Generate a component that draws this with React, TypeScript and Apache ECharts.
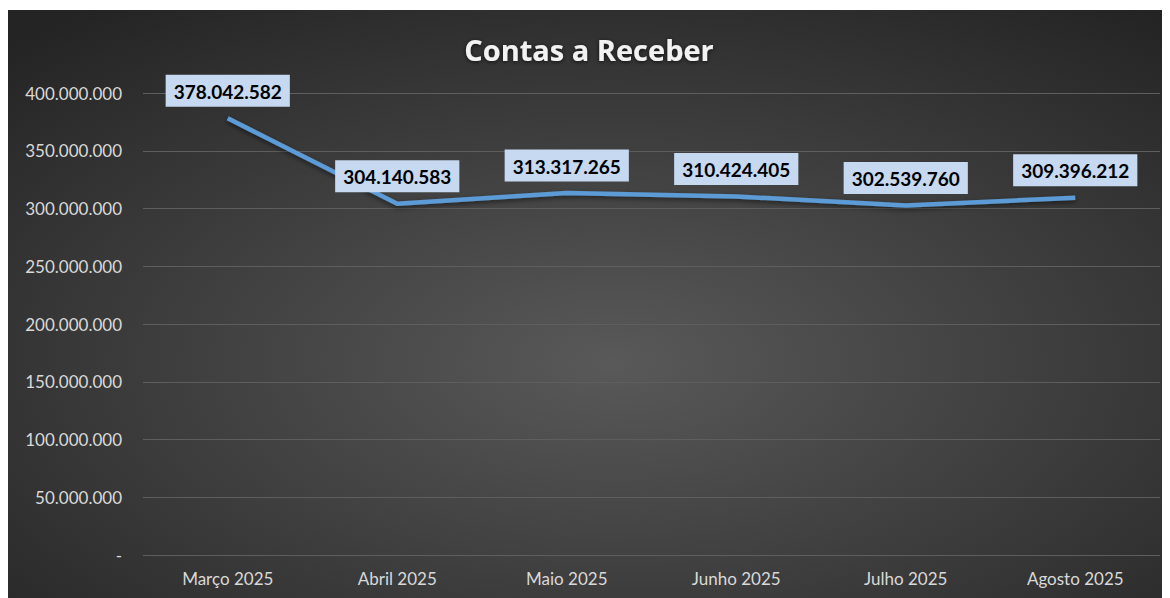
import React, { useEffect, useRef } from "react";
import * as echarts from "echarts";

const categories = ["Março 2025", "Abril 2025", "Maio 2025", "Junho 2025", "Julho 2025", "Agosto 2025"];
const values = [378042582, 304140583, 313317265, 310424405, 302539760, 309396212];
const yTicks = { min: 0, max: 400000000, interval: 50000000 };

const fmt = (v: number) => {
  if (v === 0) return "-";
  return Math.round(v).toString().replace(/\B(?=(\d{3})+(?!\d))/g, ".");
};

export default function App() {
  const ref = useRef<HTMLDivElement>(null);
  useEffect(() => {
    if (!ref.current) return;
    const chart = echarts.init(ref.current, null, { renderer: "svg" });
    chart.setOption({
      animation: false,
      backgroundColor: {
        type: "radial",
        x: 0.52,
        y: 0.6,
        r: 0.75,
        colorStops: [
          { offset: 0, color: "#595959" },
          { offset: 1, color: "#242424" },
        ],
      },
      title: {
        text: "Contas a Receber",
        left: "center",
        top: 20,
        textStyle: {
          color: "#f2f2f2",
          fontSize: 29,
          fontWeight: "bold",
          fontFamily: "Open Sans",
          textShadowColor: "rgba(0,0,0,0.7)",
          textShadowBlur: 4,
          textShadowOffsetY: 1,
        },
      },
      grid: { left: 135, right: 10, top: 83, bottom: 43 },
      xAxis: {
        type: "category",
        data: categories,
        boundaryGap: true,
        axisLine: { show: false },
        axisTick: { show: false },
        axisLabel: { color: "#d9d9d9", fontSize: 17, fontFamily: "Lato", margin: 15 },
      },
      yAxis: {
        type: "value",
        min: yTicks.min,
        max: yTicks.max,
        interval: yTicks.interval,
        axisLine: { show: false },
        axisTick: { show: false },
        splitLine: { lineStyle: { color: "#5e5e5e", width: 1 } },
        axisLabel: {
          color: "#d9d9d9",
          fontSize: 17,
          fontFamily: "Lato",
          margin: 21,
          formatter: (v: number) => fmt(v),
        },
      },
      series: [
        {
          type: "line",
          data: values,
          symbol: "circle",
          symbolSize: 1,
          showSymbol: true,
          itemStyle: { color: "rgba(0,0,0,0)", borderWidth: 0 },
          lineStyle: {
            color: "#5b9bd5",
            width: 4.5,
            shadowColor: "rgba(0,0,0,0.55)",
            shadowBlur: 5,
            shadowOffsetY: 2,
          },
          label: {
            show: true,
            position: "top",
            distance: 11,
            formatter: (p: any) => fmt(p.value),
            color: "#000",
            fontSize: 19,
            fontWeight: "bold",
            fontFamily: "Lato",
            backgroundColor: "#c6d9f0",
            padding: [7, 8, 6, 8],
          },
        },
      ],
    });
    return () => chart.dispose();
  }, []);
  return <div ref={ref} style={{ width: 1162, height: 588, marginTop: 2 }} />;
}
